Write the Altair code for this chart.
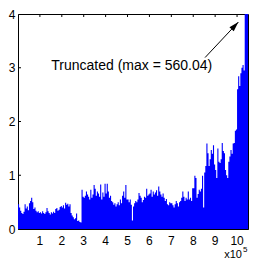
import math
import altair as alt
import pandas as pd

# ---------------- data ----------------
# x in units of 1e5 samples, one step per BIN
BIN = 0.05
seg_0 = [0.46, 0.40, 0.34, 0.30, 0.28, 0.32, 0.46, 0.38, 0.42, 0.35,
         0.48, 0.52, 0.58, 0.50, 0.37, 0.40, 0.34, 0.31, 0.33, 0.30]
seg_1 = [0.31, 0.29, 0.33, 0.30, 0.28, 0.31, 0.39, 0.33, 0.30, 0.27,
         0.31, 0.29, 0.32, 0.30, 0.37, 0.39, 0.34, 0.36, 0.41, 0.43]
seg_2 = [0.40, 0.44, 0.38, 0.49, 0.45, 0.47, 0.42, 0.46, 0.30, 0.25,
         0.22, 0.18, 0.20, 0.29, 0.15, 0.16, 0.13, 0.12, 0.73, 0.60]
seg_3 = [0.58, 0.62, 0.70, 0.64, 0.60, 0.55, 0.73, 0.58, 0.64, 0.82,
         0.75, 0.62, 0.70, 0.66, 0.60, 0.83, 0.55, 0.68, 0.60, 0.84]
seg_4 = [0.66, 0.84, 0.70, 0.58, 0.62, 0.52, 0.50, 0.45, 0.48, 0.42,
         0.46, 0.50, 0.44, 0.55, 0.48, 0.62, 0.70, 0.58, 0.82, 0.55]
seg_5 = [0.55, 0.50, 0.55, 0.45, 0.16, 0.42, 0.48, 0.52, 0.50, 0.55,
         0.67, 0.62, 0.58, 0.50, 0.54, 0.60, 0.58, 0.75, 0.62, 0.64]
seg_6 = [0.66, 0.73, 0.60, 0.70, 0.64, 0.68, 0.72, 0.62, 0.79, 0.70,
         0.64, 0.60, 0.66, 0.58, 0.52, 0.56, 0.46, 0.44, 0.50, 0.48]
seg_7 = [0.48, 0.44, 0.40, 0.46, 0.52, 0.48, 0.42, 0.50, 0.52, 0.58,
         0.70, 0.60, 0.52, 0.58, 0.55, 0.70, 0.55, 0.58, 0.52, 0.76]
seg_8 = [0.76, 0.99, 0.95, 0.58, 0.65, 0.73, 0.70, 0.75, 0.99, 0.40,
         1.05, 1.17, 1.59, 1.41, 1.17, 1.30, 1.47, 1.40, 1.56, 1.20]
seg_9 = [1.10, 0.95, 1.50, 1.25, 1.23, 1.30, 1.60, 1.45, 1.41, 1.10,
         1.00, 0.95, 1.25, 1.35, 1.47, 1.40, 1.59, 1.60, 1.83, 1.85]
seg_10 = [2.60, 2.84, 2.66, 2.90, 3.00, 3.05, 2.95, 12.5, 560.04, 48.0]

values = seg_0 + seg_1 + seg_2 + seg_3 + seg_4 + seg_5 + seg_6 + seg_7 + seg_8 + seg_9 + seg_10
starts = [round(i * BIN, 4) for i in range(len(values))]
# step area: each value holds from its start to the next start; close at the end
xs_data = starts + [round(len(values) * BIN, 4)]
ys_data = values + [values[-1]]
df = pd.DataFrame({"x": xs_data, "value": ys_data})

X_MAX = 10.5
Y_MAX = 4
x_ticks = [1, 2, 3, 4, 5, 6, 7, 8, 9, 10]
x_tick_labels = ["1", "2", "3", "4", "5", "6", "7", "8", "9", "10"]
y_ticks = [0, 1, 2, 3, 4]
exp_base = "x10"
exp_power = "5"
note = "Truncated (max = %.2f)" % max(values)
note_pos = (1.52, 2.955)
arrow_start = (8.54, 3.19)
arrow_tip = (10.06, 3.85)

# ---------------- layout / style ----------------
W, H = 230, 215
FONT = "Liberation Sans"
BLUE = "#0000FF"
TICK_PX = 3

xs = alt.Scale(domain=[0, X_MAX], nice=False, zero=False)
ys = alt.Scale(domain=[0, Y_MAX], nice=False, zero=False)

tx = TICK_PX * X_MAX / W
ty = TICK_PX * Y_MAX / H
tick_rows = []
for v in x_ticks:
    tick_rows.append({"x": v, "x2": v, "y": Y_MAX, "y2": Y_MAX - ty})
    tick_rows.append({"x": v, "x2": v, "y": 0, "y2": ty})
for v in y_ticks[1:-1]:
    tick_rows.append({"x": 0, "x2": tx, "y": v, "y2": v})
    tick_rows.append({"x": X_MAX - tx, "x2": X_MAX, "y": v, "y2": v})
ticks_df = pd.DataFrame(tick_rows)

x_axis = alt.Axis(values=x_ticks, labels=False, ticks=False, grid=False, title=None)
y_axis = alt.Axis(values=y_ticks, format="d", labelOverlap=False, ticks=False,
                  grid=False, labelPadding=3, labelFontSize=12, title=None)

ticks = alt.Chart(ticks_df).mark_rule(color="black", strokeWidth=1).encode(
    x=alt.X("x:Q", scale=xs, axis=x_axis), x2="x2:Q",
    y=alt.Y("y:Q", scale=ys, axis=y_axis), y2="y2:Q",
)

area = alt.Chart(df).mark_area(
    color=BLUE, interpolate="step-after", clip=True, opacity=1
).encode(
    x=alt.X("x:Q", scale=xs, axis=x_axis),
    y=alt.Y("value:Q", scale=ys, axis=y_axis),
    y2=alt.datum(0),
)

xlab_df = pd.DataFrame({"x": x_ticks, "t": x_tick_labels})
x_labels = alt.Chart(xlab_df).mark_text(
    align="center", baseline="top", fontSize=12, font=FONT, color="black", dy=7
).encode(x=alt.X("x:Q", scale=xs), y=alt.datum(0, scale=ys), text="t:N")

exp_df = pd.DataFrame({"x": [X_MAX], "y": [0], "base": [exp_base], "power": [exp_power]})
exp_base_mark = alt.Chart(exp_df).mark_text(
    align="right", baseline="alphabetic", fontSize=11, font=FONT, color="black",
    dx=-6, dy=29
).encode(x=alt.X("x:Q", scale=xs), y=alt.Y("y:Q", scale=ys), text="base:N")
exp_power_mark = alt.Chart(exp_df).mark_text(
    align="left", baseline="alphabetic", fontSize=8, font=FONT, color="black",
    dx=-5, dy=23
).encode(x=alt.X("x:Q", scale=xs), y=alt.Y("y:Q", scale=ys), text="power:N")

text_df = pd.DataFrame({"x": [note_pos[0]], "y": [note_pos[1]], "t": [note]})
note_mark = alt.Chart(text_df).mark_text(
    align="left", baseline="alphabetic", fontSize=14, font=FONT, color="black"
).encode(x=alt.X("x:Q", scale=xs), y=alt.Y("y:Q", scale=ys), text="t:N")

arrow_df = pd.DataFrame({"x": [arrow_start[0]], "y": [arrow_start[1]],
                         "x2": [arrow_tip[0]], "y2": [arrow_tip[1]]})
arrow_line = alt.Chart(arrow_df).mark_rule(color="black", strokeWidth=1).encode(
    x=alt.X("x:Q", scale=xs), y=alt.Y("y:Q", scale=ys), x2="x2:Q", y2="y2:Q"
)

dx = (arrow_tip[0] - arrow_start[0]) * W / X_MAX
dy = (arrow_tip[1] - arrow_start[1]) * H / Y_MAX
angle = math.degrees(math.atan2(dx, dy)) % 360
head_df = pd.DataFrame({"x": [arrow_tip[0]], "y": [arrow_tip[1]]})
arrow_head = alt.Chart(head_df).mark_point(
    shape="M0,0 L0.65,2.2 L-0.65,2.2 Z", filled=True, color="black",
    size=81, angle=angle, opacity=1, strokeWidth=0
).encode(x=alt.X("x:Q", scale=xs), y=alt.Y("y:Q", scale=ys))

chart = alt.layer(
    ticks, area, x_labels, exp_base_mark, exp_power_mark, note_mark, arrow_line, arrow_head
).properties(
    width=W, height=H, padding={"left": 0, "top": 0, "right": 0, "bottom": 0}
).configure(font=FONT).configure_axis(
    domainColor="black", domainWidth=1, labelColor="black", titleColor="black",
    labelFont=FONT, titleFont=FONT, labelOverlap=False
).configure_view(stroke="black", strokeWidth=1)

chart.save("out.html", embed_options={"renderer": "svg", "actions": False})
